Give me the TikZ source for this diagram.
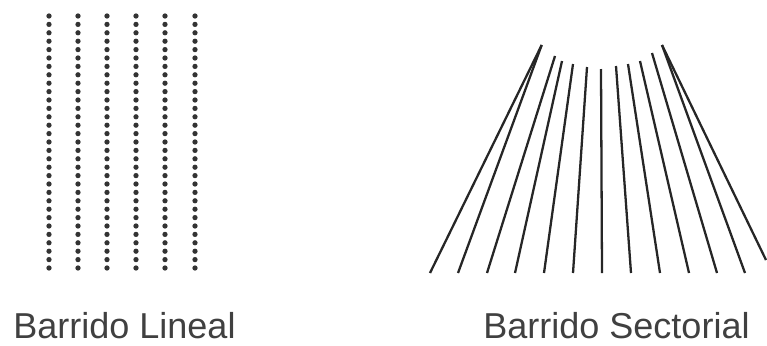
\documentclass[tikz,border=0pt]{standalone}
\usepackage{fontspec}
\setmainfont{Liberation Sans}
\begin{document}
\begin{tikzpicture}[x=0.02cm, y=-0.02cm,
    scandot/.style={fill=black!80},
    ray/.style={black!85, line width=1.3pt},
    caption/.style={anchor=base west, inner sep=0pt, font=\fontsize{20.5}{24}\selectfont, text=black!75}]
                \useasboundingbox (0,0) rectangle (767,345);
                \foreach \x in {49,78,107,136,165,195}
                    \foreach \k in {0,...,30} \fill[scandot] (\x,16+8.4*\k) circle[radius=1.5pt];
                \foreach \tx/\ty/\bx/\by in {541.7/45/430/273, 541.7/45/458/273, 555/56/487/273, 562/61/515/273, 573/64/544/273, 587/67/573/273, 601/69/602/273, 616/66/631/273, 628/64/660/273, 640/61/689/273, 652/53/717/273, 662/45/745/273, 662/45/766/260}
                    \draw[ray] (\tx,\ty) -- (\bx,\by);
                \node[caption] (lineal) at (13,338) {Barrido Lineal};
                \node[caption] (sectorial) at (483,338) {Barrido Sectorial};
            \end{tikzpicture}
\end{document}
